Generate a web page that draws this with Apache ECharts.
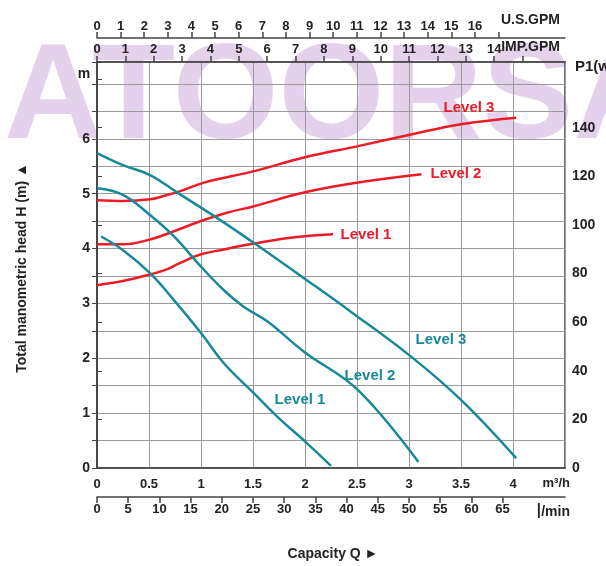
<!DOCTYPE html>
<html>
<head>
<meta charset="utf-8">
<script src="https://cdn.jsdelivr.net/npm/echarts@6/dist/echarts.min.js"></script>
<style>
  html, body { margin: 0; padding: 0; background: #fff; }
  #chart { width: 606px; height: 566px; }
</style>
</head>
<body>
<div id="chart"></div>
<script>
// 流量 Q (m³/h) / 扬程 H (m) 曲线
var headL3Q = [0, 0.25, 0.51, 0.78, 1.16, 1.51, 1.99, 2.44, 3.02, 3.50, 4.03];
var headL3H = [5.74, 5.52, 5.34, 5.01, 4.55, 4.10, 3.46, 2.85, 2.03, 1.24, 0.18];
var headL2Q = [0, 0.25, 0.51, 0.74, 1.0, 1.22, 1.41, 1.64, 1.99, 2.51, 3.09];
var headL2H = [5.10, 4.98, 4.61, 4.22, 3.67, 3.24, 2.94, 2.67, 2.12, 1.42, 0.11];
var headL1Q = [0.04, 0.25, 0.51, 0.74, 1.0, 1.22, 1.51, 1.73, 2.02, 2.25];
var headL1H = [4.22, 3.97, 3.55, 3.06, 2.46, 1.91, 1.36, 0.94, 0.45, 0.04];

// 功率 P1 (W) 曲线
var powerL3Q = [0, 0.25, 0.51, 0.64, 0.80, 1.03, 1.51, 1.99, 2.51, 3.02, 3.50, 4.03];
var powerL3P = [110.1, 109.8, 110.5, 111.9, 113.9, 117.4, 122.1, 127.7, 132.4, 137.2, 141.4, 144.1];
var powerL2Q = [0, 0.25, 0.51, 0.74, 1.0, 1.25, 1.51, 1.99, 2.51, 3.12];
var powerL2P = [92.0, 92.0, 94.0, 97.4, 101.6, 105.0, 107.7, 113.3, 117.4, 120.8];
var powerL1Q = [0, 0.25, 0.51, 0.67, 0.80, 1.0, 1.22, 1.51, 1.86, 2.27];
var powerL1P = [75.2, 76.9, 79.6, 81.7, 84.4, 87.9, 89.9, 92.3, 94.7, 96.1];

// 刻度
var headLabels = [0, 1, 2, 3, 4, 5, 6];
var powerLabelMax = 140;
var lminTicks = [0, 5, 10, 15, 20, 25, 30, 35, 40, 45, 50, 55, 60, 65];
var impLabels = [0, 1, 2, 3, 4, 5, 6, 7, 8, 9, 10, 11, 12, 13, 14];
var impTicks = impLabels.concat([15]);
var usLabels = [0, 1, 2, 3, 4, 5, 6, 7, 8, 9, 10, 11, 12, 13, 14, 15, 16];
var usTicks = usLabels.concat([17]);

var Q_MAX = 4.5;
var US_GPM = 0.227125;   // m³/h
var IMP_GPM = 0.272765;  // m³/h

var RED = '#ec1c27';
var TEAL = '#18899a';
var AXIS = '#444';
var GRIDC = '#9a9a9a';
var FONT = 'Liberation Sans, Arial, sans-serif';

function zip(a, b) {
    return a.map(function (v, i) { return [v, b[i]]; });
}

var labelStyle = { fontFamily: FONT, fontWeight: 'bold', fontSize: 13, color: '#222' };

function lineSeries(q, v, color, yIdx) {
    return {
        type: 'line',
        xAxisIndex: 0,
        yAxisIndex: yIdx,
        data: zip(q, v),
        smooth: 0.4,
        showSymbol: false,
        lineStyle: { color: color, width: 2.5 },
        z: 5
    };
}

function txt(x, y, text, opts) {
    return {
        type: 'text',
        x: x, y: y,
        silent: true,
        z: 20,
        rotation: opts.rotation || 0,
        style: {
            text: text,
            fill: opts.color || '#222',
            font: 'bold ' + (opts.size || 13) + 'px ' + FONT,
            textAlign: opts.align || 'center',
            textVerticalAlign: 'middle',
            rich: opts.rich
        }
    };
}

var myChart = echarts.init(document.getElementById('chart'));

var option = {
    backgroundColor: '#fff',
    animation: false,
    grid: {
        left: 97, right: 41, top: 62, bottom: 98,
        show: true, borderColor: AXIS, borderWidth: 1.5, backgroundColor: 'transparent'
    },
    xAxis: [
        {
            type: 'value', position: 'bottom', min: 0, max: Q_MAX, interval: 0.5,
            axisLine: { lineStyle: { color: AXIS, width: 1.5 } },
            axisTick: { show: false },
            axisLabel: Object.assign({ margin: 10, formatter: function (v) { return v === Q_MAX ? '' : v; } }, labelStyle),
            splitLine: { show: true, lineStyle: { color: GRIDC, width: 1 } }
        },
        {
            type: 'value', position: 'bottom', offset: 29, min: 0, max: Q_MAX * 1000 / 60, interval: 5,
            axisLine: { onZero: false, lineStyle: { color: AXIS, width: 1.5 } },
            axisTick: { length: 6, lineStyle: { color: AXIS, width: 1.5 }, customValues: lminTicks },
            axisLabel: Object.assign({ margin: 6, customValues: lminTicks }, labelStyle),
            splitLine: { show: false }
        },
        {
            type: 'value', position: 'top', offset: 0, min: 0, max: Q_MAX / IMP_GPM,
            axisLine: { onZero: false, lineStyle: { color: AXIS, width: 1.5 } },
            axisTick: { length: 6, lineStyle: { color: AXIS, width: 1.5 }, customValues: impTicks },
            axisLabel: Object.assign({ margin: 6, customValues: impLabels }, labelStyle),
            splitLine: { show: false }
        },
        {
            type: 'value', position: 'top', offset: 24, min: 0, max: Q_MAX / US_GPM,
            axisLine: { onZero: false, lineStyle: { color: AXIS, width: 1.5 } },
            axisTick: { length: 6, lineStyle: { color: AXIS, width: 1.5 }, customValues: usTicks },
            axisLabel: Object.assign({ margin: 5, customValues: usLabels }, labelStyle),
            splitLine: { show: false }
        }
    ],
    yAxis: [
        {
            type: 'value', position: 'left', min: 0, max: 7.4, interval: 0.5,
            axisLine: { show: true, lineStyle: { color: AXIS, width: 1.5 } },
            axisTick: { show: true, length: 5, lineStyle: { color: AXIS } },
            axisLabel: Object.assign({
                margin: 7,
                formatter: function (v) { return (v % 1 === 0 && v <= 6) ? v : ''; }
            }, labelStyle, { fontSize: 14 }),
            splitLine: { show: true, lineStyle: { color: GRIDC, width: 1 } }
        },
        {
            type: 'value', position: 'right', min: 0, max: 167, interval: 20,
            axisLine: { show: true, lineStyle: { color: AXIS, width: 1.5 } },
            axisTick: { show: true, length: 5, lineStyle: { color: AXIS } },
            axisLabel: Object.assign({
                margin: 7,
                formatter: function (v) { return v <= powerLabelMax ? v : ''; }
            }, labelStyle, { fontSize: 14 }),
            splitLine: { show: false }
        }
    ],
    series: [
        lineSeries(powerL3Q, powerL3P, RED, 1),
        lineSeries(powerL2Q, powerL2P, RED, 1),
        lineSeries(powerL1Q, powerL1P, RED, 1),
        lineSeries(headL3Q, headL3H, TEAL, 0),
        lineSeries(headL2Q, headL2H, TEAL, 0),
        lineSeries(headL1Q, headL1H, TEAL, 0)
    ],
    graphic: [
        // 水印
        {
            type: 'text', x: 4, y: 100, silent: true, z: -10,
            style: {
                text: 'ATOORSA', fill: '#e4d2ed',
                font: 'bold 136px ' + FONT, textVerticalAlign: 'middle'
            }
        },
        txt(560, 20, 'U.S.GPM', { align: 'right', size: 14 }),
        txt(560, 47, 'IMP.GPM', { align: 'right', size: 14 }),
        txt(575, 67, 'P1(w)', { align: 'left', size: 15 }),
        txt(84, 74, 'm', { size: 14 }),
        txt(570, 483, 'm³/h', { align: 'right', size: 13 }),
        txt(570, 512, '{a|l}/min', { align: 'right', size: 14, rich: { a: { fontFamily: FONT, fontSize: 21, fontWeight: 'normal', fill: '#222' } } }),
        txt(333, 554, 'Capacity Q ►', { size: 14 }),
        txt(22, 268, 'Total manometric head H (m) ▲', { size: 14, rotation: Math.PI / 2 }),
        txt(469, 108, 'Level 3', { color: RED, size: 15 }),
        txt(456, 174, 'Level 2', { color: RED, size: 15 }),
        txt(366, 235, 'Level 1', { color: RED, size: 15 }),
        txt(441, 340, 'Level 3', { color: TEAL, size: 15 }),
        txt(370, 376, 'Level 2', { color: TEAL, size: 15 }),
        txt(300, 400, 'Level 1', { color: TEAL, size: 15 })
    ]
};
myChart.setOption(option);
</script>
</body>
</html>
